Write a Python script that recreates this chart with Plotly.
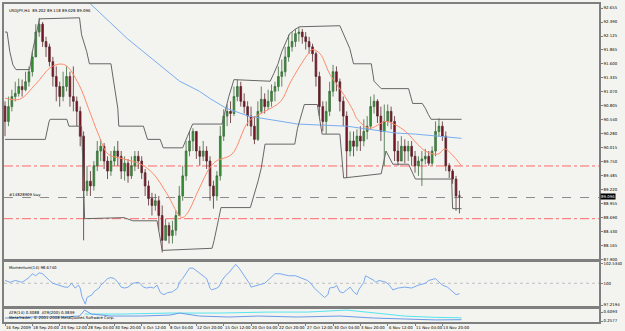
import plotly.graph_objects as go

# ---------------- data ----------------
# 8-hour candles (index 0..133)
closes = [90.51, 90.79, 90.98, 91.04, 91.17, 91.11, 91.26, 91.45, 91.73, 92.20,
          92.35, 92.02, 91.92, 91.64, 91.36, 91.17, 90.98, 91.17, 91.36, 90.98,
          90.89, 90.70, 90.23, 89.20, 89.38, 89.29, 89.67, 89.95, 90.04, 89.76,
          89.57, 89.76, 89.95, 89.85, 89.57, 89.72, 89.48, 89.67, 89.85, 89.76,
          89.54, 89.29, 89.05, 88.92, 89.01, 88.73, 88.26, 88.54, 88.35, 88.45,
          88.73, 89.10, 89.48, 89.95, 90.14, 90.32, 89.95, 89.85, 89.95, 89.76,
          89.29, 89.10, 89.48, 90.23, 90.61, 90.70, 90.66, 90.98, 91.17, 90.89,
          90.79, 90.61, 90.42, 90.17, 90.70, 90.93, 90.79, 90.89, 91.08, 91.17,
          91.36, 91.45, 91.73, 91.92, 92.02, 92.17, 92.20, 92.11, 92.02, 91.92,
          91.79, 91.36, 90.79, 90.51, 90.70, 91.08, 91.45, 91.26, 90.89, 90.61,
          89.95, 90.14, 90.04, 90.23, 90.14, 90.32, 90.42, 90.79, 90.89, 90.61,
          90.32, 90.51, 90.70, 90.51, 89.95, 89.76, 90.04, 89.95, 90.04, 89.85,
          89.67, 89.76, 89.80, 89.85, 89.72, 89.95, 90.32, 90.42, 90.23, 89.67,
          89.57, 89.42, 89.10, 89.096]
highs = [90.89, 90.98, 91.11, 91.26, 91.32, 91.30, 91.45, 91.55, 91.83, 92.35,
         92.47, 92.39, 92.11, 91.98, 91.73, 91.55, 91.26, 91.45, 91.55, 91.45,
         91.55, 90.98, 90.79, 90.32, 89.67, 89.57, 89.76, 90.14, 90.17, 90.10,
         89.85, 89.95, 90.04, 90.14, 89.95, 89.85, 89.80, 89.85, 89.95, 89.95,
         89.85, 89.61, 89.39, 89.16, 89.14, 89.10, 88.92, 88.67, 88.60, 88.63,
         88.82, 89.29, 89.67, 90.14, 90.32, 90.38, 90.23, 90.04, 90.14, 90.04,
         89.85, 89.39, 89.57, 90.42, 90.74, 90.83, 90.89, 91.17, 91.30, 91.26,
         91.04, 90.89, 90.79, 90.61, 90.89, 91.17, 91.04, 91.11, 91.21, 91.26,
         91.55, 91.68, 91.92, 92.15, 92.20, 92.26, 92.30, 92.26, 92.20, 92.11,
         91.98, 91.83, 91.45, 90.89, 90.89, 91.26, 91.58, 91.55, 91.32, 90.98,
         90.70, 90.32, 90.32, 90.36, 90.42, 90.55, 90.61, 90.98, 91.02, 90.93,
         90.79, 90.83, 90.83, 90.79, 90.61, 90.14, 90.23, 90.17, 90.14, 90.14,
         89.95, 89.85, 89.95, 89.99, 89.95, 90.04, 90.51, 90.57, 90.51, 90.32,
         89.72, 89.61, 89.48, 89.20]
lows = [90.23, 90.42, 90.70, 90.89, 90.98, 90.98, 91.08, 91.17, 91.36, 91.73,
        92.11, 91.92, 91.73, 91.55, 91.17, 90.89, 90.79, 90.89, 91.08, 90.79,
        90.70, 90.42, 90.04, 88.26, 89.10, 89.10, 89.20, 89.57, 89.76, 89.61,
        89.42, 89.48, 89.67, 89.67, 89.42, 89.39, 89.35, 89.42, 89.57, 89.61,
        89.42, 89.10, 88.92, 88.73, 88.82, 88.45, 88.03, 88.26, 88.20, 88.20,
        88.35, 88.73, 89.01, 89.39, 89.85, 89.95, 89.80, 89.67, 89.76, 89.61,
        89.01, 88.86, 89.01, 89.39, 90.14, 90.42, 90.48, 90.61, 90.89, 90.79,
        90.66, 90.42, 90.23, 90.08, 90.14, 90.66, 90.66, 90.74, 90.79, 90.89,
        91.08, 91.17, 91.36, 91.64, 91.83, 91.92, 92.02, 91.98, 91.87, 91.79,
        91.64, 91.17, 90.61, 90.32, 90.27, 90.61, 90.98, 91.08, 90.70, 90.42,
        89.44, 89.85, 89.85, 89.95, 89.95, 90.04, 90.17, 90.36, 90.66, 90.48,
        90.14, 89.67, 90.42, 90.36, 89.76, 89.67, 89.76, 89.72, 89.76, 89.67,
        89.54, 89.48, 89.29, 89.70, 89.67, 89.67, 89.85, 90.23, 90.14, 89.57,
        89.44, 89.33, 88.82, 88.77]
first_open = 90.80

# moving averages (bar index, price)
ma_fast_x = [0, 4.3, 8.9, 13.8, 17.5, 21.6, 24.4, 27.3, 30.2, 34.8, 39.7, 43.4, 47.4, 51.7, 53.2,
             56.9, 59.8, 61.8, 66.4, 71.3, 76.1, 80.7, 83.6, 88.5, 89.9, 92.2, 95.1, 99.1, 102.0,
             102.9, 106.6, 111.5, 114.4, 117.2, 123.0, 126.7, 128.7, 130.7, 133.6]
ma_fast_y = [90.95, 90.93, 91.21, 91.55, 91.58, 91.21, 90.76, 90.27, 89.89, 89.80, 89.70, 89.52,
             89.14, 88.69, 88.76, 89.25, 89.62, 89.76, 89.89, 90.51, 90.70, 90.89, 91.26, 91.77,
             91.87, 91.79, 91.40, 91.02, 90.70, 90.57, 90.38, 90.51, 90.44, 90.32, 89.95, 89.89,
             89.99, 89.89, 89.67]
ma_slow_x = [22.4, 24.4, 35.9, 51.1, 56.9, 59.8, 64.7, 71.3, 85.6, 100.0, 114.4, 120.1, 133.6]
ma_slow_y = [92.86, 92.77, 92.07, 91.27, 91.08, 90.95, 90.76, 90.61, 90.46, 90.42, 90.29, 90.27, 90.19]

# price channel
up_x = [0, 0.6, 1.4, 2.3, 3.2, 7.2, 8.0, 8.9, 10.1, 21.8, 22.4, 23.9, 24.7, 31.0, 31.9, 33.0, 33.3,
        40.5, 41.7, 45.4, 46.3, 52.0, 53.4, 54.9, 63.5, 64.4, 65.5, 67.0, 77.6, 78.7, 79.9, 81.0,
        82.2, 83.3, 85.1, 86.2, 98.0, 99.1, 100.9, 102.0, 107.2, 108.0, 110.1, 118.1, 119.3, 122.1,
        123.0, 123.9, 124.7, 133.6]
up_y = [92.20, 92.20, 91.83, 91.58, 91.49, 91.49, 91.83, 92.07, 92.45, 92.47, 92.15, 91.83, 91.60,
        91.60, 91.21, 90.76, 90.42, 90.42, 90.17, 90.17, 90.01, 90.01, 90.23, 90.46, 90.46, 90.70,
        90.98, 91.30, 91.27, 91.42, 91.60, 91.83, 92.02, 92.17, 92.26, 92.30, 92.32, 92.15, 91.89,
        91.60, 91.60, 91.27, 91.13, 91.13, 90.85, 90.85, 90.76, 90.64, 90.55, 90.55]
lo_x = [0, 11.8, 12.9, 13.2, 18.1, 18.7, 22.4, 23.3, 34.8, 35.9, 37.4, 44.5, 46.0, 60.6, 61.2,
        62.6, 63.2, 71.8, 72.7, 74.1, 75.0, 76.1, 84.8, 85.6, 87.6, 91.4, 92.2, 92.8, 98.0, 98.6,
        99.1, 110.1, 111.5, 113.5, 118.1, 120.1, 130.7, 131.0, 133.6]
lo_y = [90.17, 90.17, 90.51, 90.55, 90.55, 90.42, 90.42, 88.67, 88.69, 88.67, 88.63, 88.63, 88.07,
        88.11, 88.26, 88.69, 88.88, 88.88, 89.07, 89.39, 89.63, 90.08, 90.08, 90.38, 90.83, 90.83,
        90.51, 90.27, 90.27, 89.76, 89.44, 89.52, 89.95, 89.70, 89.70, 89.42, 89.42, 88.86, 88.86]

# momentum(14) on the 4-hour bars (4h bar index, value)
mom_bar = [0, 3, 6, 10, 14, 16, 18, 20, 22, 24, 26, 28, 32, 35, 37, 39, 41, 43, 44, 45, 47, 48, 51,
           52, 55, 56, 58, 60, 62, 64, 66, 68, 70, 72, 75, 78, 79, 81, 83, 85, 87, 89, 91, 93, 95,
           98, 101, 102, 104, 106, 108, 110, 112, 114, 116, 118, 120, 121, 124, 125, 127, 129, 131,
           133, 135, 137, 139, 141, 143, 144, 148, 152, 155, 158, 161, 166, 170, 173, 177, 179,
           181, 184, 187, 189, 190, 193, 194, 196, 198, 200, 202, 204, 206, 207, 210, 211, 213,
           216, 217, 219, 223, 225, 227, 230, 234, 238, 242, 246, 248, 252, 253, 256, 259, 262,
           264, 266]
mom_val = [100.36, 100.12, 100.36, 100.12, 100.72, 101.21, 100.96, 101.33, 101.21, 100.72, 100.36,
           100.00, 99.76, 99.51, 99.51, 100.00, 99.39, 99.76, 99.39, 98.31, 97.34, 98.19, 98.55,
           98.91, 99.39, 99.76, 100.12, 100.60, 100.72, 100.60, 100.12, 99.51, 99.39, 99.51,
           100.00, 100.12, 100.00, 99.51, 99.39, 99.51, 99.39, 99.76, 98.79, 98.55, 98.79, 98.91,
           99.39, 100.12, 100.60, 101.33, 101.93, 101.93, 101.57, 101.33, 100.96, 100.60, 99.39,
           99.15, 99.39, 99.51, 100.36, 100.96, 101.33, 101.93, 102.41, 101.93, 101.33, 100.60,
           100.00, 99.51, 99.76, 100.00, 100.60, 101.21, 101.21, 100.96, 100.96, 100.72, 100.36,
           100.00, 99.39, 98.79, 98.19, 98.55, 99.39, 99.51, 99.76, 98.91, 98.79, 99.15, 99.51,
           98.91, 98.55, 99.15, 100.12, 100.96, 100.72, 100.36, 100.12, 100.36, 100.12, 99.76,
           99.15, 99.39, 99.51, 99.39, 99.76, 100.00, 100.36, 100.60, 100.36, 99.76, 99.51, 98.91,
           98.55, 98.674]

# ATR lines (bar index, value)
atr14_x = [0, 8.0, 16.7, 21.8, 23.3, 25.3, 31.0, 39.7, 48.3, 51.1, 56.9, 65.5, 74.1, 85.6, 98.0,
           107.8, 117.2, 126.0, 133.6]
atr14_y = [0.375, 0.414, 0.414, 0.453, 0.687, 0.531, 0.453, 0.453, 0.492, 0.570, 0.453, 0.414,
           0.453, 0.414, 0.453, 0.375, 0.336, 0.300, 0.3088]
atr200_x = [23.3, 33.9, 48.3, 62.6, 77.0, 88.5, 100.0, 107.8, 117.2, 126.0, 133.6]
atr200_y = [0.531, 0.531, 0.570, 0.570, 0.609, 0.609, 0.687, 0.570, 0.450, 0.400, 0.3839]

price_ticks = [92.655, 92.390, 92.125, 91.865, 91.600, 91.335, 91.070, 90.805, 90.540, 90.280,
               90.015, 89.750, 89.485, 89.220, 88.955, 88.690, 88.430, 88.165, 87.900]
mom_ticks = [102.5340, 100.0, 97.2194]
mom_tick_text = ["102.5340", "100", "97.2194"]
atr_ticks = [0.6093, 0.2577]
time_bar = [0, 8, 16, 24, 32, 40, 48, 56, 64, 72, 80, 88, 96, 104, 112, 120, 128]
time_text = ["16 Sep 2009", "18 Sep 20:00", "23 Sep 12:00", "28 Sep 04:00", "30 Sep 20:00",
             "5 Oct 12:00", "8 Oct 04:00", "12 Oct 20:00", "15 Oct 12:00", "20 Oct 04:00",
             "22 Oct 20:00", "27 Oct 12:00", "30 Oct 04:00", "3 Nov 20:00", "6 Nov 12:00",
             "11 Nov 04:00", "13 Nov 20:00"]
red_levels = [89.667, 88.670]
order_level = 89.07
last_price = 89.096

# ---------------- figure ----------------
opens = [first_open] + closes[:-1]
hi = [max(h, o, c) for h, o, c in zip(highs, opens, closes)]
lo = [min(l, o, c) for l, o, c in zip(lows, opens, closes)]
bars = list(range(len(closes)))

BG = "#F3F3EF"
FRAME = "#7f7f7f"
FS = 3.9
FONT = dict(family="DejaVu Sans", size=FS, color="#000000")

fig = go.Figure()
fig.add_trace(go.Candlestick(
    x=bars, open=opens, high=hi, low=lo, close=closes, whiskerwidth=0,
    increasing=dict(line=dict(color="#3d6b3d", width=0.8), fillcolor="#2e9a2e"),
    decreasing=dict(line=dict(color="#5b2a30", width=0.8), fillcolor="#7d0f24"),
    showlegend=False, hoverinfo="skip"))
fig.add_trace(go.Scatter(x=ma_slow_x, y=ma_slow_y, mode="lines",
                         line=dict(color="#78aef0", width=1), showlegend=False))
fig.add_trace(go.Scatter(x=ma_fast_x, y=ma_fast_y, mode="lines", line_shape="spline",
                         line=dict(color="#ff8a6a", width=1), showlegend=False))
fig.add_trace(go.Scatter(x=up_x, y=up_y, mode="lines",
                         line=dict(color="#666666", width=1), showlegend=False))
fig.add_trace(go.Scatter(x=lo_x, y=lo_y, mode="lines",
                         line=dict(color="#666666", width=1), showlegend=False))

for lv in red_levels:
    fig.add_hline(y=lv, line=dict(color="#ff6a6a", width=1, dash="dashdot"), layer="below")
fig.add_hline(y=order_level, line=dict(color="#8c8c8c", width=1, dash="dash"), layer="below")

# momentum pane
fig.add_trace(go.Scatter(x=[b / 2 for b in mom_bar], y=mom_val, mode="lines",
                         line=dict(color="#7aaaf0", width=1), xaxis="x2", yaxis="y2",
                         showlegend=False))
fig.add_shape(type="line", xref="x2 domain", yref="y2", x0=0, x1=1, y0=100, y1=100,
              line=dict(color="#c0c0c0", width=1, dash="dot"), layer="below")

# ATR pane
fig.add_trace(go.Scatter(x=atr200_x, y=atr200_y, mode="lines",
                         line=dict(color="#55e6f0", width=1), xaxis="x3", yaxis="y3",
                         showlegend=False))
fig.add_trace(go.Scatter(x=atr14_x, y=atr14_y, mode="lines",
                         line=dict(color="#6a9ae8", width=1), xaxis="x3", yaxis="y3",
                         showlegend=False))

XR = [-0.3, 173.84]
common_x = dict(range=XR, showgrid=False, zeroline=False, showline=True, mirror=True,
                linecolor=FRAME, linewidth=1.5, fixedrange=True)
common_y = dict(side="right", showgrid=False, zeroline=False, showline=True, mirror=True,
                linecolor=FRAME, linewidth=1.5, ticks="outside", ticklen=2, tickcolor=FRAME,
                tickfont=FONT, fixedrange=True)

fig.update_layout(
    width=625, height=331,
    margin=dict(l=2, r=17, t=2, b=9),
    paper_bgcolor=BG, plot_bgcolor=BG,
    font=FONT,
    showlegend=False,
    xaxis=dict(**common_x, anchor="y", showticklabels=False, rangeslider=dict(visible=False)),
    yaxis=dict(**common_y, domain=[0.19375, 1.0], range=[87.881, 92.731],
               tickvals=price_ticks, ticktext=[f"{v:.3f}" for v in price_ticks]),
    xaxis2=dict(**common_x, anchor="y2", showticklabels=False),
    yaxis2=dict(**common_y, domain=[0.046875, 0.190625], range=[96.966, 102.787],
                tickvals=mom_ticks, ticktext=mom_tick_text),
    xaxis3=dict(**common_x, anchor="y3", showticklabels=False, ticks="outside", ticklen=2,
                tickcolor=FRAME, tickvals=time_bar),
    yaxis3=dict(**common_y, domain=[0.0, 0.04375], range=[0.2186, 0.7656],
                tickvals=atr_ticks, ticktext=[f"{v:.4f}" for v in atr_ticks]),
)

ann = [
    dict(text="USDJPY,H4  89.202 89.118 89.028 89.096", xref="paper", yref="paper",
         x=0, y=1, xanchor="left", yanchor="top", xshift=3, yshift=-2, showarrow=False),
    dict(text="#14828909 buy", xref="paper", yref="y", x=0, y=order_level,
         xanchor="left", yanchor="bottom", xshift=3, yshift=-1, showarrow=False),
    dict(text="Momentum(14) 98.6740", xref="paper", yref="paper", x=0, y=0.190625,
         xanchor="left", yanchor="top", xshift=3, yshift=-2, showarrow=False),
    dict(text="ATR(14) 0.3088  ATR(200) 0.3839", xref="paper", yref="paper", x=0,
         y=0.04375, xanchor="left", yanchor="top", xshift=3, yshift=0, showarrow=False),
    dict(text="MetaTrader, \u00a9 2001-2008 MetaQuotes Software Corp.", xref="paper",
         yref="paper", x=0, y=0.04375, xanchor="left", yanchor="top", xshift=3, yshift=-5,
         showarrow=False),
    dict(text=f"{last_price:.3f}", xref="paper", yref="y", x=1, y=last_price,
         xanchor="left", yanchor="middle", xshift=1, showarrow=False,
         bgcolor="#000000", font=dict(family="DejaVu Sans", size=FS, color="#ffffff"),
         borderpad=0),
]
for b, t in zip(time_bar, time_text):
    ann.append(dict(text=t, xref="x3", yref="paper", x=b, y=0, xanchor="left",
                    yanchor="top", xshift=-1, yshift=-1, showarrow=False))
fig.update_layout(annotations=ann)

fig.write_html("out.html")
